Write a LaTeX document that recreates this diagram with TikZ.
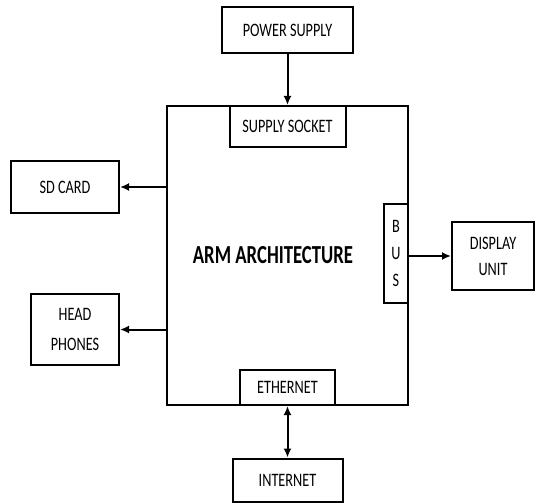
\documentclass[tikz,border=0pt]{standalone}
\usepackage{fontspec}
\setmainfont{Carlito}[FakeStretch=0.75]
\newfontfamily\armfont{Carlito}[FakeStretch=0.72]
\usepackage{tikz}
\usetikzlibrary{arrows.meta}
\usetikzlibrary{calc,positioning}

\tikzset{
  block/.style={draw,line width=2pt,fill=white,align=center,font=\fontsize{19}{22}\selectfont},
  arr/.style={-{Latex[length=9pt,width=8pt]},line width=2pt},
}

\begin{document}
\begin{tikzpicture}[x=1pt,y=-1pt]
        \useasboundingbox (0,0) rectangle (536,503);

        % main board
        \node[block,minimum width=241pt,minimum height=299pt] (arm) at (287.5,255.5) {};
        \node[font=\armfont\fontsize{26}{30}\selectfont\bfseries] (armtext) at (273,255) {ARM ARCHITECTURE};

        \node[block,minimum width=131pt,minimum height=46pt] (power) at (287.5,30) {POWER SUPPLY};
        \node[block,minimum width=116pt,minimum height=41pt] (socket) at (287.5,126.5) {SUPPLY SOCKET};

        \node[block,minimum width=108pt,minimum height=52pt] (sd) at (65,187) {SD CARD};
        \node[block,minimum width=88pt,minimum height=71pt] (head) at (75,329.5) {HEAD\\[8pt]PHONES};

        \node[block,minimum width=24pt,minimum height=99pt,inner sep=1pt] (bus) at (396,253.5) {B\\[5pt]U\\[5pt]S};
        \node[block,minimum width=82pt,minimum height=68pt] (display) at (493,256) {DISPLAY\\[4pt]UNIT};

        \node[block,minimum width=95pt,minimum height=35pt] (eth) at (287.5,387.5) {ETHERNET};
        \node[block,minimum width=110pt,minimum height=43pt] (inet) at (287.5,480) {INTERNET};

        \draw[arr] (power.south) -- (socket.north);
        \draw[arr] (arm.west |- sd.east) -- (sd.east);
        \draw[arr] (arm.west |- head.east) -- (head.east);
        \draw[arr] (bus.east |- display.west) -- (display.west);
        \draw[arr,{Latex[length=9pt,width=8pt]}-{Latex[length=9pt,width=8pt]}] (eth.south) -- (inet.north);
      \end{tikzpicture}
\end{document}
